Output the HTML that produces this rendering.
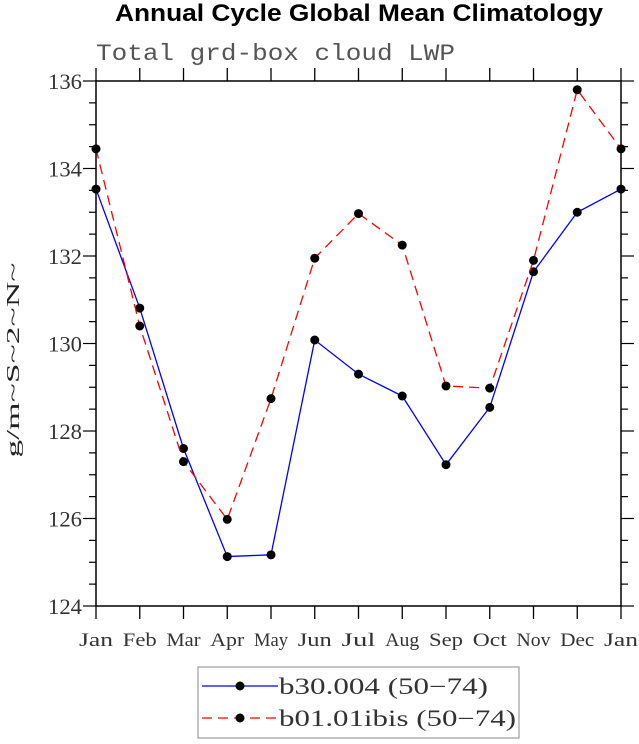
<!DOCTYPE html>
<html><head><meta charset="utf-8"><style>
body{margin:0;background:#fff}
svg text{font-family:"Liberation Serif",serif}
</style></head><body>
<svg id="c" width="639" height="739" viewBox="0 0 639 739" xmlns="http://www.w3.org/2000/svg">
<text x="115" y="21" textLength="488" lengthAdjust="spacingAndGlyphs" style="font-family:'Liberation Sans',sans-serif;font-weight:bold;font-size:24px">Annual Cycle Global Mean Climatology</text>
<text x="96" y="60" textLength="359" lengthAdjust="spacingAndGlyphs" style="font-family:'Liberation Mono',monospace;font-size:23px" fill="#555">Total grd-box cloud LWP</text>
<text transform="translate(19,360) rotate(-90)" text-anchor="middle" textLength="195" lengthAdjust="spacingAndGlyphs" font-size="18" fill="#222">g/m~S~2~N~</text>
<g id="axes"></g>
<g id="series"></g>
<g>
<rect x="198" y="667" width="321" height="71" fill="#fff" stroke="#888" stroke-width="1"/>
<line x1="202" y1="686" x2="278" y2="686" stroke="#0000ff" stroke-width="1.3"/>
<circle cx="240" cy="686" r="4.5" fill="#000"/>
<text x="279" y="694" textLength="209" lengthAdjust="spacingAndGlyphs" font-size="23" fill="#333">b30.004 (50−74)</text>
<line x1="202" y1="718" x2="278" y2="718" stroke="#ff0000" stroke-width="1.3" stroke-dasharray="10,6"/>
<circle cx="240" cy="718" r="4.5" fill="#000"/>
<text x="279" y="726" textLength="237" lengthAdjust="spacingAndGlyphs" font-size="23" fill="#333">b01.01ibis (50−74)</text>
</g>
</svg>
<script>
const months=["Jan","Feb","Mar","Apr","May","Jun","Jul","Aug","Sep","Oct","Nov","Dec","Jan"];
const seriesB30=[133.53,130.81,127.6,125.13,125.17,130.08,129.3,128.8,127.23,128.54,131.64,133.0,133.53];
const seriesB01=[134.45,130.4,127.3,125.98,128.74,131.95,132.97,132.25,129.03,128.98,131.9,135.8,134.45];
const yTicks=[124,126,128,130,132,134,136];
const L=96,R=621,T=81,B=606,ymin=124,ymax=136;
const xs=i=>L+(R-L)*i/12;
const ys=v=>B-(B-T)*(v-ymin)/(ymax-ymin);
const NS="http://www.w3.org/2000/svg";
function mk(t,a,p){const e=document.createElementNS(NS,t);for(const k in a)e.setAttribute(k,a[k]);p.appendChild(e);return e;}
const ax=document.getElementById('axes');
const fr=mk('rect',{x:L,y:T,width:R-L,height:B-T,fill:'none',stroke:'#000','stroke-width':1.5},ax);


months.forEach((m,i)=>{
  const x=xs(i);
  mk('line',{x1:x,y1:B,x2:x,y2:B+13,stroke:'#000','stroke-width':1.3},ax);
  mk('line',{x1:x,y1:T,x2:x,y2:T-13,stroke:'#000','stroke-width':1.3},ax);
  const t=mk('text',{x:x,y:B+40,'text-anchor':'middle','font-size':19,fill:'#333',textLength:34,lengthAdjust:'spacingAndGlyphs'},ax);
  t.textContent=m;
  
  
});
for(let v=ymin;v<=ymax+0.001;v+=0.5){
  const y=ys(v);const major=Math.abs(v%2)<0.01;const len=major?13:7;
  mk('line',{x1:L,y1:y,x2:L-len,y2:y,stroke:'#000','stroke-width':1.2},ax);
  mk('line',{x1:R,y1:y,x2:R+len,y2:y,stroke:'#000','stroke-width':1.2},ax);
}
yTicks.forEach(v=>{
  const t=mk('text',{x:L-14,y:ys(v)+8,'text-anchor':'end','font-size':22,fill:'#333',textLength:34,lengthAdjust:'spacingAndGlyphs'},ax);
  t.textContent=v;
  
  
});
const sg=document.getElementById('series');
function draw(vals,color,dash,name){
  const g=mk('g',{},sg);
  
  
  const pl=mk('polyline',{points:vals.map((v,i)=>xs(i)+','+ys(v)).join(' '),fill:'none',stroke:color,'stroke-width':1.3,'stroke-dasharray':dash},g);
  
  vals.forEach((v,i)=>{
    const c=mk('circle',{cx:xs(i),cy:ys(v),r:4.5,fill:'#000'},g);
    
    
  });
}
draw(seriesB30,'#0000ff','none','series-b30');
draw(seriesB01,'#ff0000','10,6','series-b01');
</script>
</body></html>
